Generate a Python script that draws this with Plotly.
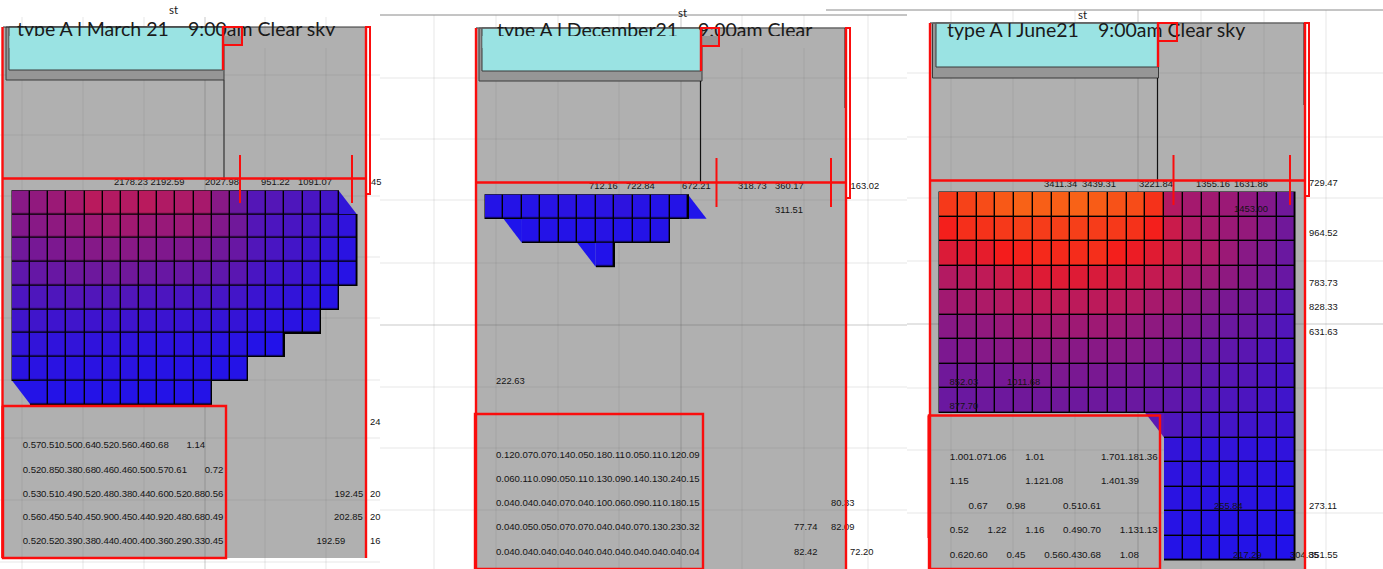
import plotly.graph_objects as go

# ---------- data ----------
_ = None
MARCH_LEVELS = [
    [38,41,44,48,54,52,52,54,51,50,48,38,28,20,20,18,16,14,_],
    [36,38,40,42,45,46,46,44,43,44,42,36,30,20,17,16,14,11,7],
    [30,32,34,36,37,38,38,37,35,35,34,30,27,19,16,14,11,8,5],
    [24,26,27,29,29,30,30,28,27,27,26,24,22,16,13,12,9,6,4],
    [17,18,18,20,19,19,19,17,17,16,16,15,14,11,9,8,6,4,_],
    [13,13,12,13,12,12,12,11,11,10,10,9,9,7,6,5,4,_,_],
    [8,8,7,8,7,7,7,6,6,6,6,5,5,3,2,_,_,_,_],
    [5,5,5,5,5,5,5,4,4,4,4,3,3,_,_,_,_,_,_],
    [_,3,3,3,3,3,3,3,3,3,3,_,_,_,_,_,_,_,_],
]
DECEMBER_LEVELS = [
    [3,3,3,4,5,4,5,6,4,3,3,_],
    [_,_,2,3,3,3,4,3,3,3,_,_],
    [_,_,_,_,_,_,2,_,_,_,_,_],
]
JUNE_LEVELS = [
    [84,87,90,94,97,96,96,97,95,92,90,82,52,47,46,44,40,36,30],
    [76,81,82,84,86,85,86,86,85,84,82,76,60,50,47,44,42,36,30],
    [66,68,70,75,77,79,79,80,81,76,72,68,60,52,50,44,38,34,28],
    [52,54,56,60,64,67,67,67,65,62,60,58,54,46,44,40,36,31,27],
    [46,48,50,52,54,56,56,55,55,54,52,48,46,40,37,33,30,27,22],
    [38,40,41,43,46,46,46,45,45,44,42,40,38,35,32,28,27,23,19],
    [34,36,37,38,40,40,40,38,38,38,37,35,32,29,27,24,22,19,17],
    [30,31,32,32,34,34,34,33,33,32,31,29,28,26,23,21,20,17,15],
    [28,28,29,29,30,30,30,29,29,28,28,26,24,22,20,18,17,15,13],
    [_,_,_,_,_,_,_,_,_,_,_,_,18,16,15,14,13,12,11],
    [_,_,_,_,_,_,_,_,_,_,_,_,8,8,8,8,7,7,7],
    [_,_,_,_,_,_,_,_,_,_,_,_,6,7,6,6,6,6,5],
    [_,_,_,_,_,_,_,_,_,_,_,_,5,5,5,5,5,5,4],
    [_,_,_,_,_,_,_,_,_,_,_,_,4,4,4,4,4,4,3],
    [_,_,_,_,_,_,_,_,_,_,_,_,3,3,3,3,3,3,2],
]
MARCH_TABLE = [
    [.57,.51,.50,.64,.52,.56,.46,.68,_,1.14,_],
    [.52,.85,.38,.68,.46,.46,.50,.57,.61,_,.72],
    [.53,.51,.49,.52,.48,.38,.44,.60,.52,.88,.56],
    [.56,.45,.54,.45,.90,.45,.44,.92,.48,.68,.49],
    [.52,.52,.39,.38,.44,.40,.40,.36,.29,.33,.45],
]
DECEMBER_TABLE = [
    [.12,.07,.07,.14,.05,.18,.11,.05,.11,.12,.09],
    [.06,.11,.09,.05,.11,.13,.09,.14,.13,.24,.15],
    [.04,.04,.04,.07,.04,.10,.06,.09,.11,.18,.15],
    [.04,.05,.05,.07,.07,.04,.04,.07,.13,.23,.32],
    [.04,.04,.04,.04,.04,.04,.04,.04,.04,.04,.04],
]
JUNE_TABLE = [
    [1.00,1.07,1.06,_,1.01,_,_,_,1.70,1.18,1.36],
    [1.15,_,_,_,1.12,1.08,_,_,1.40,1.39,_],
    [_,.67,_,.98,_,_,.51,.61,_,_,_],
    [.52,_,1.22,_,1.16,_,.49,.70,_,1.13,1.13],
    [.62,.60,_,.45,_,.56,.43,.68,_,1.08,_],
]
MARCH_TITLE = ["type A l March 21", "9:00am Clear sky"]
DECEMBER_TITLE = ["type A l December21", "9:00am Clear"]
JUNE_TITLE = ["type A l June21", "9:00am Clear sky"]
MARCH_VALUES = ["2178.23","2192.59","2027.98","951.22","1091.07","45","24","20","20","16","192.45","202.85","192.59"]
DECEMBER_VALUES = ["712.16","722.84","672.21","318.73","360.17","311.51","163.02","222.63","80.33","77.74","82.09","82.42","72.20"]
JUNE_VALUES = ["3411.34","3439.31","3221.84","1355.16","1631.86","729.47","1453.00","964.52","783.73","828.33","631.63",
               "852.03","1011.68","877.70","255.84","273.11","217.29","304.85","351.55"]

# ---------- placement ----------
MARCH_XY = [(114,183),(150.5,183),(205,183),(261,183),(298,183),(371,183),(370,423),(370,494.5),(370,518),(370,542),
            (334.5,494.7),(334,518),(316.5,542)]
DECEMBER_XY = [(589,186.5),(626,186.5),(682,186.5),(738,186.5),(775,186.5),(775,211),(850.5,186.5),(496,382),
               (831,504),(794,528),(831,528),(794,553),(850,553)]
JUNE_XY = [(1044,184.5),(1082,184.5),(1139,184.5),(1196,184.5),(1234,184.5),(1309,184),(1234,209.5),(1309,234),
           (1309,284),(1309,308),(1309,333),(949.5,383),(1007,383),(949.5,407),(1214,507),(1309,507),(1233,556),
           (1290,556),(1309,556)]

BLACK = [[0,"#000"],[1,"#000"]]
SCALE = [[0,"#1c12f0"],[.30,"#70189a"],[.55,"#bc1a5a"],[.75,"#f41c1c"],[1,"#f96c16"]]
RED = "#fa0d0d"

fig = go.Figure()
shapes = []

def rect(x0,y0,x1,y1,fill=None,line=None,w=1,layer="below"):
    shapes.append(dict(type="rect",x0=x0,y0=y0,x1=x1,y1=y1,layer=layer,fillcolor=fill or "rgba(0,0,0,0)",
                       line=dict(color=line or "rgba(0,0,0,0)",width=w if line else 0)))

def seg(x0,y0,x1,y1,color,w=1,layer="below"):
    shapes.append(dict(type="line",x0=x0,y0=y0,x1=x1,y1=y1,layer=layer,line=dict(color=color,width=w)))

def tri(p,fill):
    path = "M "+" L ".join(f"{a} {b}" for a,b in p)+" Z"
    shapes.append(dict(type="path",path=path,fillcolor=fill,line=dict(width=0),layer="below"))

def grid(levels,left,right,top,bottom):
    n,m = len(levels[0]),len(levels)
    dx,dy = (right-left)/n,(bottom-top)/m
    mask = [[None if v is None else 1 for v in r] for r in levels]
    fig.add_trace(go.Heatmap(z=mask,x0=left-.5+(dx+1/n)/2,dx=dx+1/n,y0=top-.5+(dy+1/m)/2,dy=dy+1/m,
                             colorscale=BLACK,showscale=False,hoverinfo="skip"))
    fig.add_trace(go.Heatmap(z=levels,x0=left+dx/2,dx=dx,y0=top+dy/2,dy=dy,zmin=0,zmax=100,xgap=1.4,ygap=1.4,
                             colorscale=SCALE,showscale=False,hoverinfo="skip"))
    return dx,dy

def table(rows,x0,step,ys):
    xs,yy,tt = [],[],[]
    for r,y in zip(rows,ys):
        for i,v in enumerate(r):
            if v is not None:
                xs.append(x0+i*step); yy.append(y); tt.append(f"{v:.2f}")
    return xs,yy,tt

def small(xs,ys,tt,size=9.4):
    fig.add_trace(go.Scatter(x=xs,y=ys,text=tt,mode="text",textposition="middle right",cliponaxis=False,
                             textfont=dict(family="Liberation Sans",size=size,color="#141414"),hoverinfo="skip"))

def big(x,y,t,size=19.5):
    fig.add_trace(go.Scatter(x=[x],y=[y],text=[t],mode="text",textposition="middle right",cliponaxis=False,
                             textfont=dict(family="Lato",size=size,color="#1a1a1a"),hoverinfo="skip"))

# background grid and grey sheets
G = "rgba(105,105,105,0.16)"
GD = "rgba(90,90,90,0.32)"
rect(3,27,366,558,"#b0b0b0")
rect(476,28,846,569,"#b0b0b0")
rect(930,23,1305,569,"#b0b0b0")
for x in (22,83,144,205,265,326):
    seg(x,17,x,569,GD if x==205 else G)
for y in (75,135,196,257,318,380,438,500,562):
    seg(0,y,380,y,G)
for x in (434,496,558,619,681,742,804,868):
    seg(x,15,x,569,GD if x==681 else G)
for y in (78,139,200,263,325,387,448,510):
    seg(380,y,907,y,GD if y==325 else G)
for x in (951,1013,1075,1138,1201,1264,1326):
    seg(x,10,x,569,GD if x==1138 else G)
for y in (73,137,198,261,324,388,450,513):
    seg(907,y,1383,y,GD if y==324 else G)
seg(380,15,907,15,"#8a8a8a")
seg(826,10,1383,10,"#8a8a8a")

# windows
TEAL = "#9ae3e3"
FRAME = "#969696"
for fx0,fx1,tx0,tx1,top,ty,fy,vx,vb,col in (
    (6,224,9,223,27,70,80,224,178,"#333"),
    (479,702,482,701,28,71,81,700.5,182,"#111"),
    (932.5,1158.5,936,1158,23,67,78,1157.5,180,"#111")):
    rect(fx0,top,fx1,fy,FRAME,"#3a3a3a")
    rect(tx0,top,tx1,ty,TEAL,"#3a3a3a")
    seg(vx,fy,vx,vb,col,1.2)
seg(3,27,366,27,"#333")
seg(476,28,846,28,"#666",1.5)
seg(930,23,1305,23,"#666",1.5)
seg(845.3,28,845.3,108,"#111",1.5)
seg(1304.3,23,1304.3,105,"#111",1.5)

# illuminance cells
dx,dy = grid(MARCH_LEVELS,12,357,190.7,404.3)
tri([(12+18*dx,190.7),(12+19*dx,190.7+dy),(12+18*dx,190.7+dy)],"#3016d8")
tri([(12,190.7+8*dy),(12+dx,190.7+8*dy),(12+dx,190.7+9*dy)],"#2014ea")
dx,dy = grid(DECEMBER_LEVELS,485,706.6,194.7,267)
tri([(485+11*dx,194.7),(485+12*dx,194.7+dy),(485+11*dx,194.7+dy)],"#2014ea")
tri([(485+dx,194.7+dy),(485+2*dx,194.7+dy),(485+2*dx,194.7+2*dy)],"#1e14ec")
tri([(485+5*dx,194.7+2*dy),(485+6*dx,194.7+2*dy),(485+6*dx,194.7+3*dy)],"#1e14ec")
dx,dy = grid(JUNE_LEVELS,939,1295.3,192,560.3)
tri([(939+11*dx,192+9*dy),(939+12*dx,192+9*dy),(939+12*dx,192+10*dy)],"#5a18b4")

# titles (first two are cut off below, as in the screenshot)
big(17,31,MARCH_TITLE[0]); big(188,31,MARCH_TITLE[1])
big(497,32,DECEMBER_TITLE[0]); big(698,32,DECEMBER_TITLE[1])
big(947,32,JUNE_TITLE[0]); big(1098,32,JUNE_TITLE[1])
big(169,11,"st",11.5); big(678,14,"st",11.5); big(1078,16,"st",11.5)
rect(9.5,36,222.5,48,TEAL,layer="above")
rect(242,36,365,48,"#b0b0b0",layer="above")
rect(482.5,36,700,48,TEAL,layer="above")
rect(719,36,844,48,"#b0b0b0",layer="above")
rect(224,36,241,44,FRAME,layer="above")
rect(701.5,36,718,45,FRAME,layer="above")

# value labels
for vals,xy in ((MARCH_VALUES,MARCH_XY),(DECEMBER_VALUES,DECEMBER_XY),(JUNE_VALUES,JUNE_XY)):
    small([p[0] for p in xy],[p[1] for p in xy],vals)
small(*table(MARCH_TABLE,22.7,18.2,(446,470.5,494.7,518,542)),size=9.6)
small(*table(DECEMBER_TABLE,496,18.5,(455.7,479.3,504,528,553)),size=9.6)
small(*table(JUNE_TABLE,949.7,18.9,(457.7,481.7,507,531,556)),size=9.8)

# red drawing overlay
for x0,x1,y_top,y_bot,yh,t0,t1,ta,tb,bx0,bx1,by,rx,ry,wx,sx,sy,lx,ly in (
    (2.5,366,27,558,178.5,240,352,155,203,3,226,406,370,194,223,242,45,2.5,558),
    (476,846,28,569,182.5,716.5,831,158,207,475,703,414,850,198,701,719,46,475,535),
    (930,1305,23,569,180.5,1173.5,1290,155,205,929,1160,415.5,1309,196,1158,1177,41,928.5,538)):
    seg(x0,y_top,x0,y_bot,RED,2.4,"above")
    seg(x1,y_top,x1,y_bot,RED,2.4,"above")
    seg(x0,yh,x1,yh,RED,2.4,"above")
    seg(t0,ta,t0,tb,RED,2,"above")
    seg(t1,ta,t1,tb,RED,2,"above")
    rect(bx0,by,bx1,y_bot,None,RED,2.4,"above")
    rect(x1,y_top,rx,ry,None,RED,2,"above")
    rect(wx,y_top,sx,sy,None,RED,2,"above")
    seg(wx,y_top,wx,(70 if x0<10 else (71 if x0<500 else 67)),RED,2.4,"above")
    seg(lx,by,lx,ly,RED,2,"above")

fig.update_layout(
    width=1383,height=569,margin=dict(l=0,r=0,t=0,b=0),showlegend=False,
    paper_bgcolor="white",plot_bgcolor="white",shapes=shapes,
    xaxis=dict(range=[0,1383],visible=False,fixedrange=True),
    yaxis=dict(range=[569,0],visible=False,fixedrange=True),
)
fig.write_html("out.html",config={"displayModeBar":False},post_script="document.body.style.margin='0';")
